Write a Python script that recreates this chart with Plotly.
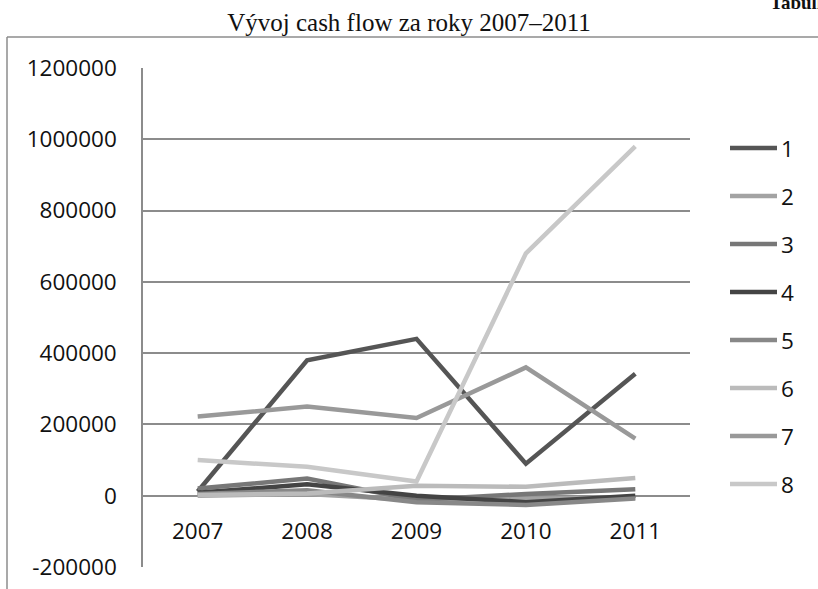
import plotly.graph_objects as go

# Years on the category axis
years = ["2007", "2008", "2009", "2010", "2011"]

# Cash-flow series 1-8
s1 = [12000, 380000, 440000, 90000, 342000]
s2 = [0, 5000, -12000, -8000, -5000]
s3 = [20000, 48000, -12000, 5000, 18000]
s4 = [8000, 32000, 0, -18000, 0]
s5 = [5000, 15000, -18000, -26000, -8000]
s6 = [2000, 6000, 28000, 25000, 50000]
s7 = [222000, 250000, 218000, 360000, 160000]
s8 = [100000, 81000, 40000, 680000, 980000]

series_names = ["1", "2", "3", "4", "5", "6", "7", "8"]
series_values = [s1, s2, s3, s4, s5, s6, s7, s8]
series_colors = ["#555555", "#a3a3a3", "#777777", "#444444",
                 "#888888", "#bbbbbb", "#999999", "#c8c8c8"]

y_ticks = [-200000, 0, 200000, 400000, 600000, 800000, 1000000, 1200000]

W, H = 818, 589
L, R, T, B = 143, 690, 68, 567
LABEL_FONT = dict(family="Open Sans", size=22.5, color="#111111")

fig = go.Figure()
for name, vals, col in zip(series_names, series_values, series_colors):
    fig.add_trace(go.Scatter(
        x=years, y=vals, name=name, mode="lines",
        line=dict(color=col, width=4.5),
        showlegend=False,
    ))

# paper-coordinate helpers (pixel -> paper fraction)
def px_x(px):
    return (px - L) / (R - L)

def px_y(py):
    return (B - py) / (B - T)

zero_pos = px_y(495)

fig.update_layout(
    width=W, height=H,
    margin=dict(l=L, r=W - R, t=T, b=H - B, pad=0, autoexpand=False),
    paper_bgcolor="white", plot_bgcolor="white",
    font=LABEL_FONT,
    title=dict(text="Vývoj cash flow za roky 2007–2011",
               font=dict(family="Liberation Serif", size=25, color="#111111"),
               x=0.5, xref="container", xanchor="center",
               y=1 - 22 / H, yref="container", yanchor="middle",
               automargin=False),
    xaxis=dict(type="category", range=[-0.5, 4.5], showgrid=False,
               showline=False, zeroline=False, ticks="", automargin=False,
               anchor="free", position=zero_pos, ticklabelstandoff=20,
               tickfont=LABEL_FONT),
    yaxis=dict(range=[-200000, 1200000], tickvals=y_ticks,
               ticktext=[str(v) for v in y_ticks], automargin=False,
               showgrid=True, gridcolor="#8c8c8c", gridwidth=1.5,
               showline=True, linecolor="#8c8c8c", linewidth=1.5,
               zeroline=False, ticks="", ticklabelstandoff=20,
               tickfont=LABEL_FONT),
    showlegend=False,
)

# legend: one line sample and label per series
legend_top, legend_step = 148, 48
for i, (name, col) in enumerate(zip(series_names, series_colors)):
    yy = px_y(legend_top + i * legend_step)
    fig.add_shape(type="line", xref="paper", yref="paper",
                  x0=px_x(730), x1=px_x(777), y0=yy, y1=yy,
                  line=dict(color=col, width=4.5))
    fig.add_annotation(text=name, xref="paper", yref="paper",
                       x=px_x(779), y=yy, xanchor="left", yanchor="middle",
                       showarrow=False, font=LABEL_FONT)

# outer chart frame: left edge and top edge
frame = dict(color="#8c8c8c", width=1.5)
fig.add_shape(type="line", xref="paper", yref="paper",
              x0=px_x(7), x1=px_x(7), y0=px_y(37), y1=px_y(H + 5), line=frame)
fig.add_shape(type="line", xref="paper", yref="paper",
              x0=px_x(7), x1=px_x(W + 5), y0=px_y(37), y1=px_y(37), line=frame)

# running header in the top-right corner
fig.add_annotation(text="<b>Tabulka</b>", xref="paper", yref="paper",
                   x=px_x(768), y=px_y(3), xanchor="left", yanchor="middle",
                   showarrow=False,
                   font=dict(family="Liberation Serif", size=19, color="#111111"))

fig.write_html("out.html")
